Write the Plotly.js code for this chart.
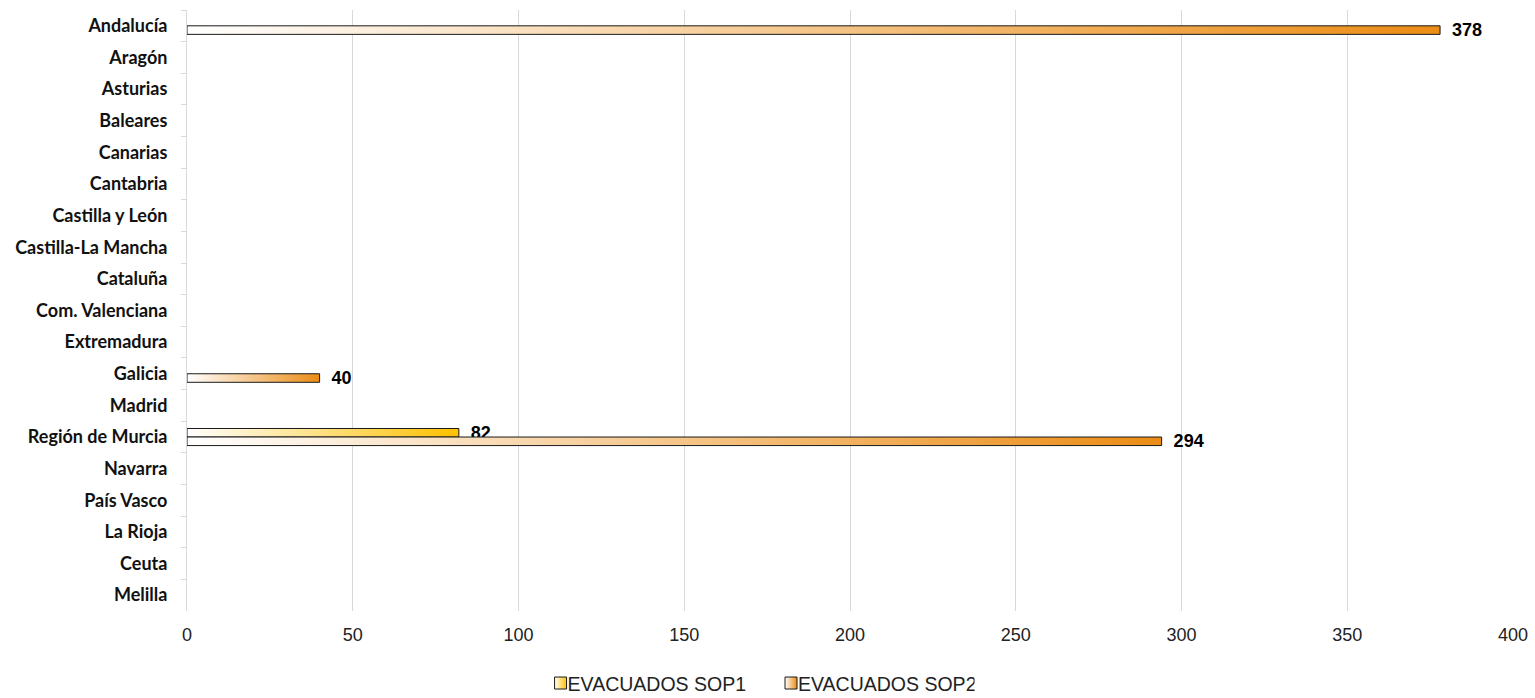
<!DOCTYPE html>
<html>
<head>
<meta charset="utf-8">
<script src="https://cdn.plot.ly/plotly-3.0.1.min.js"></script>
<style>
html,body{margin:0;padding:0;background:#fff;}
#chart{width:1535px;height:698px;}
</style>
</head>
<body>
<div id="chart"></div>
<script>
var regions = ['Andalucía','Aragón','Asturias','Baleares','Canarias','Cantabria','Castilla y León','Castilla-La Mancha','Cataluña','Com. Valenciana','Extremadura','Galicia','Madrid','Región de Murcia','Navarra','País Vasco','La Rioja','Ceuta','Melilla'];
var sop1 = [0,0,0,0,0,0,0,0,0,0,0,0,0,82,0,0,0,0,0];
var sop2 = [378,0,0,0,0,0,0,0,0,0,0,40,0,294,0,0,0,0,0];
var seriesNames = ['EVACUADOS SOP1','EVACUADOS SOP2'];
var xTicks = [0,50,100,150,200,250,300,350,400];

var colors = ['#FFC000','#EB8C14'];
function labels(arr){ return arr.map(function(v){ return v ? String(v) : ''; }); }
function nonZero(arr){ return arr.map(function(v){ return v ? v : null; }); }

function barTrace(vals, name, color){
  return {
    type:'bar', orientation:'h', y:regions, x:nonZero(vals), name:name,
    marker:{color:color, line:{color:'#1a1a1a', width:1}},
    text:labels(vals), texttemplate:'\u2002%{text}', textposition:'outside',
    constraintext:'none', cliponaxis:false,
    textfont:{family:'Liberation Sans, Arial, sans-serif', size:18, color:'#000', weight:'bold'}
  };
}

var data = [barTrace(sop1, seriesNames[0], colors[0]), barTrace(sop2, seriesNames[1], colors[1])];

var layout = {
  width:1535, height:698,
  margin:{l:187, r:22, t:10, b:87},
  paper_bgcolor:'#fff', plot_bgcolor:'#fff',
  barmode:'group', bargap:0.46, bargroupgap:0,
  showlegend:true,
  legend:{orientation:'h', xref:'container', yref:'container', x:0.4893, xanchor:'center', y:0.021, yanchor:'middle',
    font:{family:'Liberation Sans, Arial, sans-serif', size:19.5, color:'#222'}, itemwidth:30, traceorder:'normal'},
  xaxis:{range:[0,400], tickvals:xTicks, ticktext:xTicks.map(String), showgrid:true, gridcolor:'#d9d9d9', gridwidth:1,
    zeroline:false, showline:false, ticks:'', ticklabelstandoff:11,
    tickfont:{family:'Liberation Sans, Arial, sans-serif', size:18, color:'#222'}},
  yaxis:{type:'category', autorange:'reversed', showgrid:false, zeroline:false, showline:true, linecolor:'#d9d9d9', linewidth:1,
    ticks:'outside', tickson:'boundaries', ticklen:5, tickcolor:'#d9d9d9', ticklabelstandoff:15,
    tickfont:{family:'Lato, sans-serif', size:18, color:'#111', weight:'bold'}}
};

Plotly.newPlot('chart', data, layout, {staticPlot:true, displayModeBar:false}).then(function(gd){
  var svgNS = 'http://www.w3.org/2000/svg';
  var defs = gd.querySelector('svg.main-svg defs');
  var ids = ['gradSop1','gradSop2'];
  colors.forEach(function(c,i){
    var lg = document.createElementNS(svgNS,'linearGradient');
    lg.setAttribute('id', ids[i]);
    lg.setAttribute('x1','0'); lg.setAttribute('y1','0'); lg.setAttribute('x2','1'); lg.setAttribute('y2','0');
    var s0 = document.createElementNS(svgNS,'stop'); s0.setAttribute('offset','0'); s0.setAttribute('stop-color','#ffffff');
    var s1 = document.createElementNS(svgNS,'stop'); s1.setAttribute('offset','1'); s1.setAttribute('stop-color',c);
    lg.appendChild(s0); lg.appendChild(s1); defs.appendChild(lg);
  });
  var traces = gd.querySelectorAll('.barlayer .trace');
  traces.forEach(function(t,i){
    t.querySelectorAll('.point path').forEach(function(p){ p.style.fill = 'url(#'+ids[i]+')'; });
  });
  var lt = gd.querySelectorAll('.legend .traces');
  lt.forEach(function(t,i){
    var lp = t.querySelector('.legendpoints');
    if (lp) lp.setAttribute('transform','translate(13,0)');
    t.querySelectorAll('.legendpoints path').forEach(function(p){ p.style.fill = 'url(#'+ids[i]+')'; });
    if (i === 1) {
      var tr = t.getAttribute('transform') || '';
      var m = tr.match(/translate\(\s*([-\d.]+)[ ,]+([-\d.]+)\s*\)/);
      if (m) t.setAttribute('transform','translate(' + (parseFloat(m[1]) + 7) + ',' + m[2] + ')');
    }
  });
});
</script>
</body>
</html>
